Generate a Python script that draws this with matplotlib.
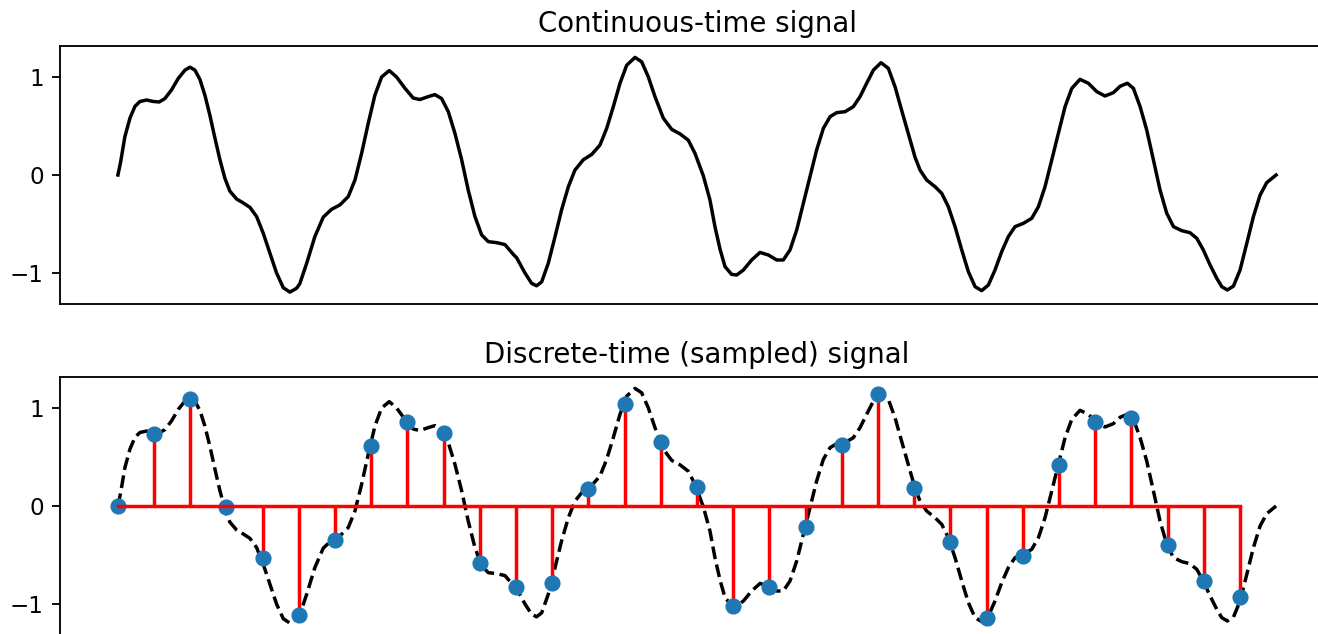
import numpy as np
import matplotlib
matplotlib.use("Agg")
import matplotlib.pyplot as plt

# continuous-time signal (time in [0, 1])
t_cont = [
    0.0, 0.0023, 0.006, 0.0104, 0.0147, 0.019, 0.0248, 0.0305, 0.0357, 0.0406,
    0.0464, 0.0521, 0.0579, 0.0622, 0.0665, 0.0708, 0.0751, 0.0794, 0.0838, 0.0881,
    0.0924, 0.0967, 0.1025, 0.1082, 0.114, 0.1198, 0.1255, 0.1313, 0.137, 0.1428,
    0.1485, 0.1543, 0.157, 0.163, 0.170, 0.1773, 0.1845, 0.1917, 0.1989, 0.2047,
    0.2104, 0.2162, 0.2219, 0.2277, 0.2343, 0.2406, 0.2478, 0.255, 0.2608, 0.268,
    0.2737, 0.2795, 0.2853, 0.291, 0.2968, 0.3025, 0.3083, 0.314, 0.3198, 0.327,
    0.3342, 0.3414, 0.3443, 0.3515, 0.3572, 0.3615, 0.3659, 0.3716, 0.3774, 0.3831,
    0.3889, 0.3946, 0.4018, 0.4091, 0.4162, 0.422, 0.4278, 0.4335, 0.4393, 0.4465,
    0.4522, 0.458, 0.4637, 0.4709, 0.4782, 0.4853, 0.4925, 0.4983, 0.5055, 0.5112,
    0.5155, 0.5199, 0.5242, 0.5299, 0.5343, 0.540, 0.5472, 0.5544, 0.5616, 0.5688,
    0.5745, 0.5803, 0.5861, 0.5918, 0.5976, 0.6033, 0.6091, 0.6149, 0.6206, 0.6278,
    0.635, 0.6408, 0.6465, 0.6523, 0.6589, 0.6652, 0.671, 0.6767, 0.6825, 0.6883,
    0.6926, 0.6983, 0.7055, 0.7113, 0.717, 0.7228, 0.7286, 0.7343, 0.7401, 0.7458,
    0.7516, 0.7573, 0.7631, 0.7688, 0.7746, 0.7818, 0.789, 0.7948, 0.8005, 0.8063,
    0.812, 0.8178, 0.8236, 0.8307, 0.8379, 0.8452, 0.8523, 0.8595, 0.8653, 0.8716,
    0.8768, 0.8826, 0.8883, 0.8941, 0.8998, 0.9056, 0.9114, 0.9186, 0.9257, 0.9315,
    0.9372, 0.943, 0.9488, 0.9531, 0.9579, 0.9632, 0.9689, 0.9747, 0.9804, 0.9862,
    0.9919, 1.0,
]
x_cont = [
    0.0, 0.13, 0.39, 0.58, 0.70, 0.75, 0.765, 0.75, 0.745, 0.78,
    0.87, 0.985, 1.07, 1.10, 1.07, 0.975, 0.815, 0.61, 0.375, 0.155,
    -0.035, -0.165, -0.245, -0.285, -0.33, -0.425, -0.595, -0.80, -1.00, -1.15,
    -1.195, -1.155, -1.11, -0.90, -0.63, -0.43, -0.35, -0.305, -0.22, -0.05,
    0.22, 0.53, 0.815, 1.0, 1.065, 1.0, 0.885, 0.785, 0.77, 0.80,
    0.82, 0.78, 0.645, 0.425, 0.155, -0.155, -0.425, -0.61, -0.68, -0.69,
    -0.71, -0.81, -0.845, -1.0, -1.105, -1.13, -1.09, -0.90, -0.63, -0.355,
    -0.12, 0.05, 0.155, 0.21, 0.305, 0.475, 0.70, 0.935, 1.12, 1.20,
    1.155, 1.0, 0.80, 0.58, 0.465, 0.42, 0.355, 0.22, -0.01, -0.255,
    -0.527, -0.757, -0.935, -1.014, -1.02, -0.97, -0.867, -0.79, -0.816, -0.867,
    -0.867, -0.765, -0.56, -0.29, -0.017, 0.255, 0.476, 0.595, 0.636, 0.646,
    0.697, 0.80, 0.936, 1.07, 1.146, 1.088, 0.90, 0.66, 0.42, 0.18,
    0.05, -0.051, -0.119, -0.187, -0.323, -0.527, -0.765, -0.986, -1.139, -1.18,
    -1.122, -0.969, -0.782, -0.629, -0.527, -0.493, -0.442, -0.323, -0.119, 0.153,
    0.425, 0.697, 0.884, 0.976, 0.936, 0.85, 0.806, 0.84, 0.905, 0.936,
    0.884, 0.697, 0.459, 0.153, -0.153, -0.391, -0.527, -0.568, -0.589, -0.646,
    -0.765, -0.918, -1.054, -1.139, -1.173, -1.133, -0.969, -0.697, -0.425, -0.204,
    -0.078, 0.0,
]

# sampled values (32 samples over one unit of time)
n_samples = 32
x_samp = [
    0.0, 0.735, 1.092, -0.007, -0.531, -1.112, -0.347, 0.612, 0.857, 0.748,
    -0.585, -0.830, -0.789, 0.173, 1.037, 0.656, 0.197, -1.017, -0.823, -0.218,
    0.622, 1.139, 0.187, -0.367, -1.146, -0.507, 0.418, 0.854, 0.895, -0.398,
    -0.762, -0.932,
]
t_samp = np.arange(n_samples) / n_samples

W, H, DPI = 1318, 634, 166
fig = plt.figure(figsize=(W / DPI, H / DPI), dpi=DPI)

ax1 = fig.add_axes([60 / W, (H - 304) / H, 1274 / W, 258 / H])
ax2 = fig.add_axes([60 / W, (H - 635) / H, 1274 / W, 258 / H])

# señal continua
ax1.plot(t_cont, x_cont, color="k")
ax1.set_title("Continuous-time signal")

# señal muestreada
ax2.plot(t_cont, x_cont, "k--")
ax2.stem(t_samp, x_samp, linefmt="r-", markerfmt="C0o", basefmt="r-")
ax2.set_title("Discrete-time (sampled) signal")

for ax in (ax1, ax2):
    ax.set_xlim(-0.05, 1.05)
    ax.set_ylim(-1.316, 1.316)
    ax.set_xticks([])
    ax.set_yticks([-1, 0, 1])

fig.savefig("out.png", dpi=DPI)
